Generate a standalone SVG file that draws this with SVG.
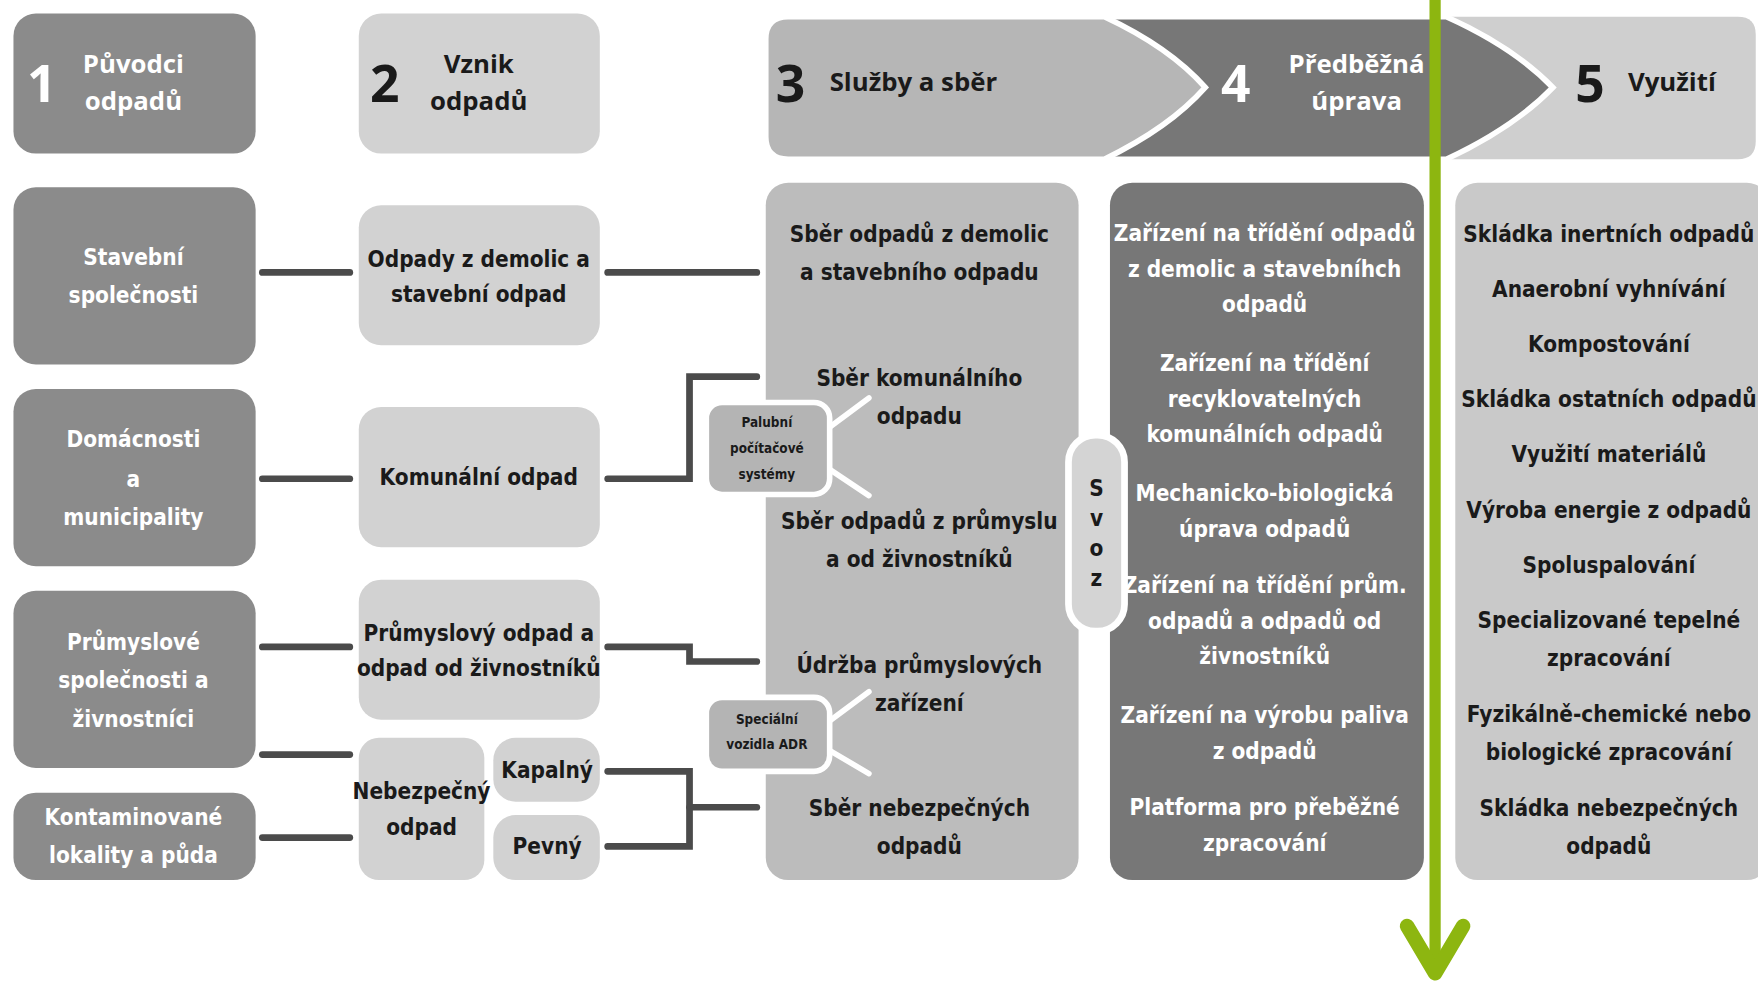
<svg xmlns="http://www.w3.org/2000/svg" width="1758" height="989" viewBox="0 0 1758 989">
<style>
.d{fill:#8b8b8b}
.l{fill:#d2d2d2}
.m{fill:#bcbcbc}
.k{fill:#777777}
.t{font-family:"DejaVu Sans","DejaVu Sans Condensed",sans-serif;font-stretch:condensed;font-weight:bold;text-anchor:middle;font-size:20px}
.w{fill:#ffffff}
.b{fill:#1a1a1a}
.h{font-family:"Open Sans","Noto Sans","Liberation Sans",sans-serif;font-weight:bold;font-size:23px}
.n{font-family:"Open Sans","Noto Sans","Liberation Sans",sans-serif;font-weight:bold;font-size:46px}
.c{fill:none;stroke:#4b4b4b;stroke-width:6;stroke-linecap:round;stroke-linejoin:miter}
.wl{fill:none;stroke:#ffffff;stroke-width:5;stroke-linecap:round}
.s{font-size:12px}
</style>
<rect width="1758" height="989" fill="#ffffff"/>
<g transform="scale(1.12117)">
<g id="head1">
<rect class="d" x="12" y="12" width="216" height="125" rx="20"/>
<text class="n w" x="24" y="91">1</text>
<text class="h w" x="119" y="65" text-anchor="middle">Původci</text>
<text class="h w" x="119" y="98" text-anchor="middle">odpadů</text>
</g>
<g id="head2">
<rect class="l" x="320" y="12" width="215" height="125" rx="20"/>
<text class="n b" x="330" y="91">2</text>
<text class="h b" x="427" y="65" text-anchor="middle">Vznik</text>
<text class="h b" x="427" y="98" text-anchor="middle">odpadů</text>
</g>
<g id="head5">
<path d="M1270,15 H1550 Q1566,15 1566,31 V126 Q1566,142 1550,142 H1270 Z" fill="#cfcfcf"/>
<text class="n b" x="1405" y="91">5</text>
<text class="h b" x="1452" y="81">Využití</text>
</g>
<g id="head4">
<path d="M960,15 H1290 Q1350,42 1385,78 Q1350,114 1290,142 H960 Z" class="k" stroke="#ffffff" stroke-width="5"/>
<text class="n w" x="1089" y="91">4</text>
<text class="h w" x="1210" y="65" text-anchor="middle">Předběžná</text>
<text class="h w" x="1210" y="98" text-anchor="middle">úprava</text>
</g>
<g id="head3">
<path d="M703,15 H985 Q1043,42 1075,78 Q1043,114 985,142 H703 Q683,142 683,122 V35 Q683,15 703,15 Z" fill="#b6b6b6" stroke="#ffffff" stroke-width="5"/>
<text class="n b" x="692" y="91">3</text>
<text class="h b" x="740" y="81">Služby a sběr</text>
</g>

<g id="connectors">
<path class="c" d="M234,243 H312"/>
<path class="c" d="M542,243 H675"/>
<path class="c" d="M234,427 H312"/>
<path class="c" d="M542,427 H615 V336 H675"/>
<path class="c" d="M234,577 H312"/>
<path class="c" d="M542,577 H615 V590 H675"/>
<path class="c" d="M234,673 H312"/>
<path class="c" d="M234,747 H312"/>
<path class="c" d="M542,688 H615 V755 H542"/>
<path class="c" d="M615,720 H675"/>
</g>

<g id="stavebni-spolecnosti">
<rect class="d" x="12" y="167" width="216" height="158" rx="20"/>
<text class="t w" x="119" y="236">Stavební</text>
<text class="t w" x="119" y="270">společnosti</text>
</g>
<g id="domacnosti">
<rect class="d" x="12" y="347" width="216" height="158" rx="20"/>
<text class="t w" x="119" y="399">Domácnosti</text>
<text class="t w" x="119" y="434">a</text>
<text class="t w" x="119" y="468">municipality</text>
</g>
<g id="prumyslove-spolecnosti">
<rect class="d" x="12" y="527" width="216" height="158" rx="20"/>
<text class="t w" x="119" y="580">Průmyslové</text>
<text class="t w" x="119" y="614">společnosti a</text>
<text class="t w" x="119" y="648">živnostníci</text>
</g>
<g id="kontaminovane">
<rect class="d" x="12" y="707" width="216" height="78" rx="20"/>
<text class="t w" x="119" y="736">Kontaminované</text>
<text class="t w" x="119" y="770">lokality a půda</text>
</g>

<g id="odpady-demolic">
<rect class="l" x="320" y="183" width="215" height="125" rx="20"/>
<text class="t b" x="427" y="238" font-size="19">Odpady z demolic a</text>
<text class="t b" x="427" y="269" font-size="19">stavební odpad</text>
</g>
<g id="komunalni-odpad">
<rect class="l" x="320" y="363" width="215" height="125" rx="20"/>
<text class="t b" x="427" y="433" font-size="19">Komunální odpad</text>
</g>
<g id="prumyslovy-odpad">
<rect class="l" x="320" y="517" width="215" height="125" rx="20"/>
<text class="t b" x="427" y="572" font-size="19">Průmyslový odpad a</text>
<text class="t b" x="427" y="603" font-size="19">odpad od živnostníků</text>
</g>
<g id="nebezpecny-odpad">
<rect class="l" x="320" y="658" width="112" height="127" rx="18"/>
<text class="t b" x="376" y="713" font-size="18">Nebezpečný</text>
<text class="t b" x="376" y="745" font-size="18">odpad</text>
</g>
<g id="kapalny">
<rect class="l" x="440" y="658" width="95" height="57" rx="20"/>
<text class="t b" x="488" y="694" font-size="18">Kapalný</text>
</g>
<g id="pevny">
<rect class="l" x="440" y="727" width="95" height="58" rx="20"/>
<text class="t b" x="488" y="762" font-size="18">Pevný</text>
</g>

<g id="sluzby-a-sber">
<rect class="m" x="683" y="163" width="279" height="622" rx="20"/>
<text class="t b" x="820" y="216">Sběr odpadů z demolic</text>
<text class="t b" x="820" y="250">a stavebního odpadu</text>
<text class="t b" x="820" y="344">Sběr komunálního</text>
<text class="t b" x="820" y="378">odpadu</text>
<text class="t b" x="820" y="472">Sběr odpadů z průmyslu</text>
<text class="t b" x="820" y="506">a od živnostníků</text>
<text class="t b" x="820" y="600">Údržba průmyslových</text>
<text class="t b" x="820" y="634">zařízení</text>
<text class="t b" x="820" y="728">Sběr nebezpečných</text>
<text class="t b" x="820" y="762">odpadů</text>
</g>

<g id="palubni-systemy">
<path class="wl" d="M736,384 L775,355 M736,416 L775,442"/>
<rect x="630" y="359" width="110" height="82" rx="14" fill="#b4b4b4" stroke="#ffffff" stroke-width="5"/>
<text class="t b s" x="684" y="381">Palubní</text>
<text class="t b s" x="684" y="404">počítačové</text>
<text class="t b s" x="684" y="427">systémy</text>
</g>
<g id="specialni-vozidla">
<path class="wl" d="M736,646 L775,617 M736,667 L775,690"/>
<rect x="630" y="622" width="110" height="66" rx="14" fill="#b4b4b4" stroke="#ffffff" stroke-width="5"/>
<text class="t b s" x="684" y="646">Speciální</text>
<text class="t b s" x="684" y="668">vozidla ADR</text>
</g>

<g id="predbezna-uprava">
<rect class="k" x="990" y="163" width="280" height="622" rx="20"/>
<text class="t w" x="1128" y="215" font-size="18.5">Zařízení na třídění odpadů</text>
<text class="t w" x="1128" y="247" font-size="18.5">z demolic a stavebníhch</text>
<text class="t w" x="1128" y="278" font-size="18.5">odpadů</text>
<text class="t w" x="1128" y="331" font-size="18.5">Zařízení na třídění</text>
<text class="t w" x="1128" y="363" font-size="18.5">recyklovatelných</text>
<text class="t w" x="1128" y="394" font-size="18.5">komunálních odpadů</text>
<text class="t w" x="1128" y="447" font-size="18.5">Mechanicko-biologická</text>
<text class="t w" x="1128" y="479" font-size="18.5">úprava odpadů</text>
<text class="t w" x="1128" y="529" font-size="18.5">Zařízení na třídění prům.</text>
<text class="t w" x="1128" y="561" font-size="18.5">odpadů a odpadů od</text>
<text class="t w" x="1128" y="592" font-size="18.5">živnostníků</text>
<text class="t w" x="1128" y="645" font-size="18.5">Zařízení na výrobu paliva</text>
<text class="t w" x="1128" y="677" font-size="18.5">z odpadů</text>
<text class="t w" x="1128" y="727" font-size="18.5">Platforma pro přeběžné</text>
<text class="t w" x="1128" y="759" font-size="18.5">zpracování</text>
</g>

<g id="svoz">
<rect x="953" y="388" width="50" height="175" rx="24" fill="#d4d4d4" stroke="#ffffff" stroke-width="6"/>
<text class="t b" x="978" y="442" font-size="16">S</text>
<text class="t b" x="978" y="469" font-size="16">v</text>
<text class="t b" x="978" y="496" font-size="16">o</text>
<text class="t b" x="978" y="523" font-size="16">z</text>
</g>

<g id="vyuziti">
<rect x="1298" y="163" width="280" height="622" rx="20" fill="#c9c9c9"/>
<text class="t b" x="1435" y="216">Skládka inertních odpadů</text>
<text class="t b" x="1435" y="265">Anaerobní vyhnívání</text>
<text class="t b" x="1435" y="314">Kompostování</text>
<text class="t b" x="1435" y="363">Skládka ostatních odpadů</text>
<text class="t b" x="1435" y="412">Využití materiálů</text>
<text class="t b" x="1435" y="462">Výroba energie z odpadů</text>
<text class="t b" x="1435" y="511">Spoluspalování</text>
<text class="t b" x="1435" y="560">Specializované tepelné</text>
<text class="t b" x="1435" y="594">zpracování</text>
<text class="t b" x="1435" y="644">Fyzikálně-chemické nebo</text>
<text class="t b" x="1435" y="678">biologické zpracování</text>
<text class="t b" x="1435" y="728">Skládka nebezpečných</text>
<text class="t b" x="1435" y="762">odpadů</text>
</g>

<g id="green-arrow">
<path d="M1280,0 V866" fill="none" stroke="#8db610" stroke-width="10"/>
<path d="M1255,826 L1280,868 L1305,826" fill="none" stroke="#8db610" stroke-width="13" stroke-linecap="round" stroke-linejoin="round"/>
</g>
</g>
</svg>
